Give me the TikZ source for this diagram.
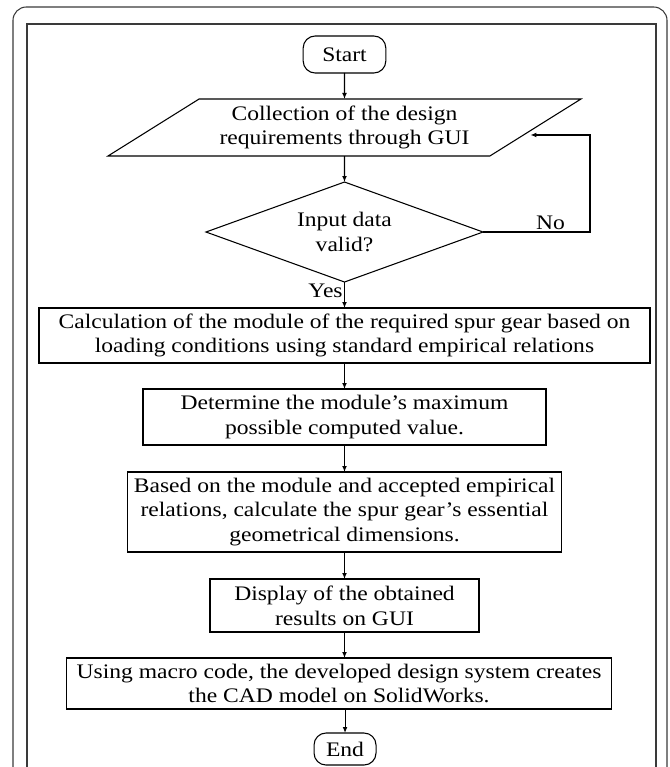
\documentclass[tikz,border=0pt]{standalone}
\usepackage{fontspec}
\setmainfont{Liberation Serif}[FakeStretch=1.14]
\usepackage{tikz}
\usetikzlibrary{positioning, arrows.meta, shapes.geometric}
\definecolor{FrameA}{HTML}{3A3A3A}
\newcommand{\fctext}{\fontsize{15.5}{18.5}\selectfont}
\tikzset{
  bx/.style={draw=black, line width=0.8pt, align=center, font=\fctext,
             inner sep=2pt, outer sep=0pt},
  trm/.style={bx, rectangle, rounded corners=9pt},
  inp/.style={bx, trapezium, trapezium left angle=31.5, trapezium right angle=148.5,
              trapezium stretches=true},
  dec/.style={bx, diamond, aspect=2.77, inner sep=0pt},
  prc/.style={bx, rectangle},
  ar/.style={-{Latex[length=4.5pt,width=3.6pt]}, line width=0.8pt},
  el/.style={font=\fctext, inner sep=1pt},
  frm/.style={draw=FrameA, line width=0.8pt},
}

\begin{document}
\begin{tikzpicture}[x=0.75pt, y=-0.75pt, node distance=19.5pt]
  \clip (0,0) rectangle (669,767);
  % frames round the chart
  \draw[frm, rounded corners=10pt] (13,7) rectangle (667,800);
  \draw[frm] (27,24) rectangle (656,800);

  \node[trm, minimum width=62pt, minimum height=27.75pt] (start) at (344.5,54.5) {Start};
  \node[inp, below=of start, minimum width=355.5pt, minimum height=42.75pt] (coll)
       {Collection of the design\\requirements through GUI};
  \node[dec, below=of coll, minimum width=207.75pt, minimum height=75pt] (valid)
       {Input data\\valid?};
  \node[prc, below=of valid, minimum width=458.25pt, minimum height=41.25pt] (calc)
       {Calculation of the module of the required spur gear based on\\loading conditions using standard empirical relations};
  \node[prc, below=of calc, minimum width=302.25pt, minimum height=42pt] (maxm)
       {Determine the module's maximum\\possible computed value.};
  \node[prc, below=20.25pt of maxm, minimum width=325.5pt, minimum height=60pt] (geom)
       {Based on the module and accepted empirical\\relations, calculate the spur gear's essential\\geometrical dimensions.};
  \node[prc, below=20.25pt of geom, minimum width=201.75pt, minimum height=39.75pt] (disp)
       {Display of the obtained\\results on GUI};
  \node[prc, below=of disp, xshift=-4.1pt, minimum width=408.75pt, minimum height=38.25pt] (cad)
       {Using macro code, the developed design system creates\\the CAD model on SolidWorks.};
  \node[trm, below=18pt of cad, xshift=4.5pt, minimum width=46.5pt, minimum height=24pt] (end) {End};

  \coordinate (back) at ([xshift=-3.75pt, yshift=-5.6pt]coll.east);

  \draw[ar] (start) -- (coll);
  \draw[ar] (coll) -- (valid);
  \draw[ar] (valid.south) -- node[el, left, pos=0.35]{Yes} (calc.north);
  \draw[ar] (valid.east) -- node[el, above, pos=0.63]{No} ++(107,0) |- (back);
  \draw[ar] (calc) -- (maxm);
  \draw[ar] (maxm) -- (geom);
  \draw[ar] (geom) -- (disp);
  \draw[ar] (disp.south) -- (disp.south |- cad.north);
  \draw[ar] (cad.south -| end.north) -- (end.north);
\end{tikzpicture}
\end{document}
